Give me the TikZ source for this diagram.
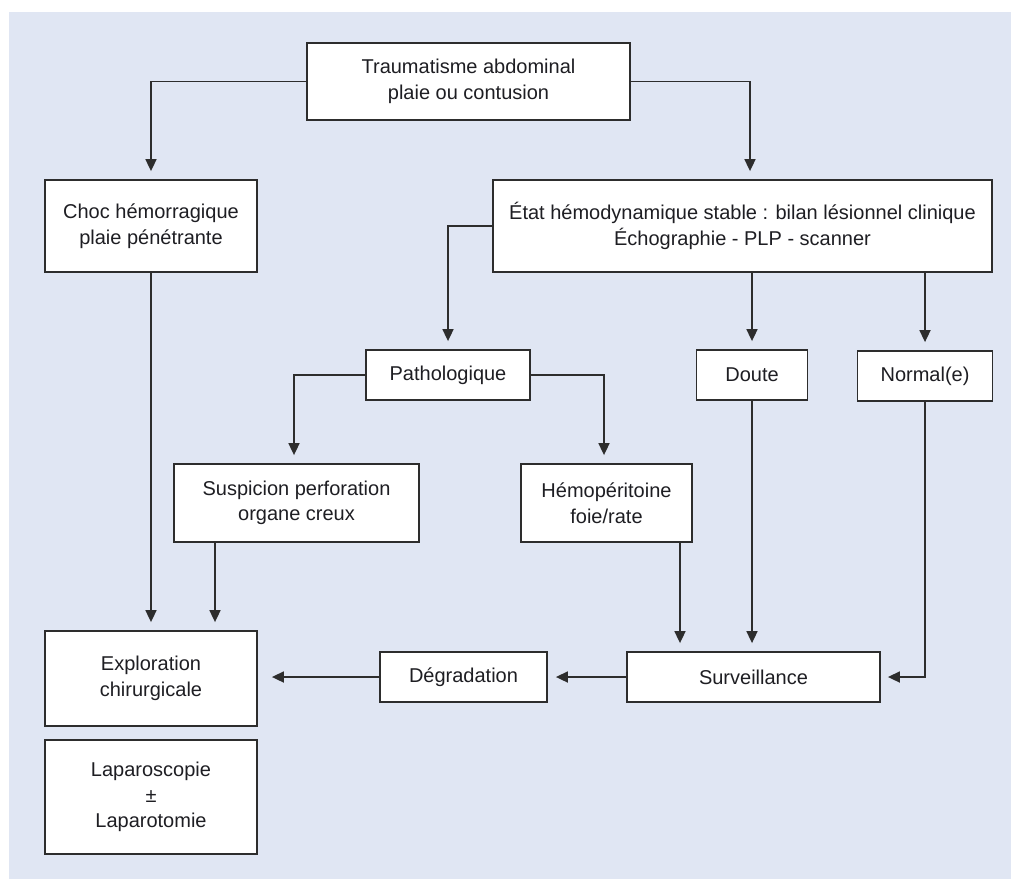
\documentclass[tikz,border=0pt]{standalone}
\usepackage{fontspec}
\setmainfont{Liberation Sans}
\usetikzlibrary{arrows.meta}
\definecolor{bgblue}{RGB}{224,230,243}
\definecolor{linegray}{RGB}{45,45,45}
\definecolor{textgray}{RGB}{30,30,35}
\tikzset{
  box/.style={draw=linegray, line width=1.8pt, fill=white, inner sep=0pt, align=center,
    text=textgray, font=\fontsize{20}{25.5}\selectfont},
  conn/.style={draw=linegray, line width=1.7pt},
  arr/.style={conn, -{Triangle[length=12pt,width=11pt]}, shorten >=8pt},
}
\begin{document}
\begin{tikzpicture}[x=1pt,y=-1pt]
\useasboundingbox (0,0) rectangle (1011,879);
\fill[bgblue] (9,12) rectangle (1011,879);

\node[box, minimum width=323, minimum height=77] (top) at (468.5,81.5) {Traumatisme abdominal\\plaie ou contusion};
\node[box, minimum width=212, minimum height=92] (choc) at (151,226) {Choc hémorragique\\plaie pénétrante};
\node[box, minimum width=499, minimum height=92] (etat) at (742.5,226) {État hémodynamique stable : bilan lésionnel clinique\\Échographie - PLP - scanner};
\node[box, minimum width=164, minimum height=50] (patho) at (448,375) {Pathologique};
\node[box, minimum width=111, minimum height=50] (doute) at (752,375) {Doute};
\node[box, minimum width=135, minimum height=50] (normal) at (925,376) {Normal(e)};
\node[box, minimum width=245, minimum height=78] (susp) at (296.5,503) {Suspicion perforation\\organe creux};
\node[box, minimum width=171, minimum height=78] (hemo) at (606.5,503) {Hémopéritoine\\foie/rate};
\node[box, minimum width=212, minimum height=95] (explo) at (151,678.5) {Exploration\\chirurgicale};
\node[box, minimum width=212, minimum height=114] (lapa) at (151,797) {Laparoscopie\\±\\Laparotomie};
\node[box, minimum width=167, minimum height=50] (degr) at (463.5,677) {Dégradation};
\node[box, minimum width=253, minimum height=50] (surv) at (753.5,677) {Surveillance};

\coordinate (c1) at (215,0);
\coordinate (c2) at (680,0);
\coordinate (c3) at (750,0);
\coordinate (c4) at (294,0);
\coordinate (c5) at (604,0);

\draw[arr] (top.west) -| (choc.north);
\draw[arr] (top.east) -| (c3 |- etat.north);
\draw[arr] (etat.west) -| (patho.north);
\draw[arr] (etat.south -| doute.north) -- (doute.north);
\draw[arr] (etat.south -| normal.north) -- (normal.north);
\draw[arr] (patho.west) -| (c4 |- susp.north);
\draw[arr] (patho.east) -| (c5 |- hemo.north);
\draw[arr] (choc.south) -- (explo.north);
\draw[arr] (c1 |- susp.south) -- (c1 |- explo.north);
\draw[arr] (c2 |- hemo.south) -- (c2 |- surv.north);
\draw[arr] (doute.south) -- (doute.south |- surv.north);
\draw[arr, shorten >=7pt] (normal.south) |- (surv.east);
\draw[arr] (surv.west) -- (degr.east);
\draw[arr, shorten >=14pt] (degr.west) -- (degr.west -| explo.east);
\end{tikzpicture}
\end{document}
